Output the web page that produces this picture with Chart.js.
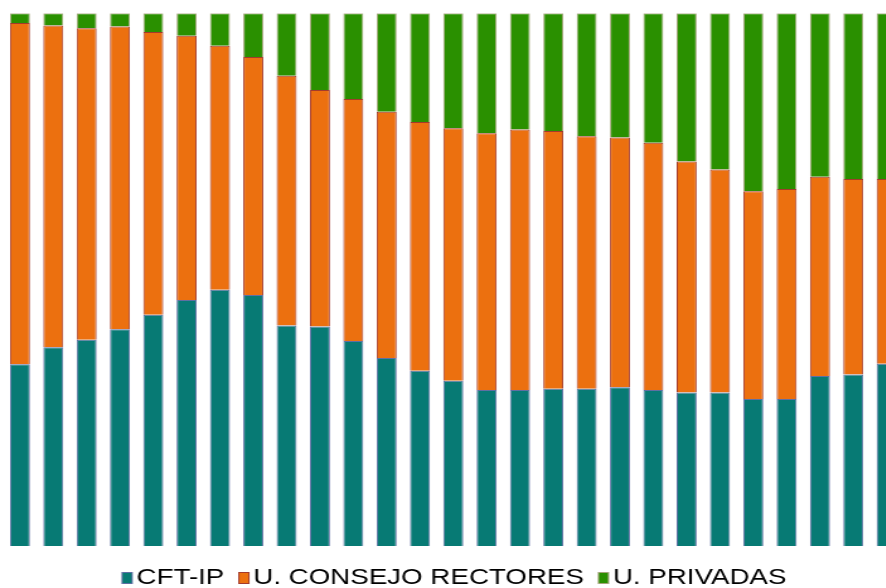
<!DOCTYPE html>
<html>
<head>
<meta charset="utf-8">
<script src="https://cdn.jsdelivr.net/npm/chart.js@4"></script>
<style>
  html, body { margin: 0; padding: 0; overflow: hidden; background: #fff; }
  #wrap { width: 727px; height: 600px; transform: scaleX(1.26); transform-origin: 0 0; }
</style>
</head>
<body>
<div id="wrap"><canvas id="chart" width="727" height="600"></canvas></div>
<script>
// years (axis is not shown in the picture)
const years = ['1983','1984','1985','1986','1987','1988','1989','1990','1991','1992','1993','1994','1995','1996',
               '1997','1998','1999','2000','2001','2002','2003','2004','2005','2006','2007','2008','2009']

// share of enrolment, %
const cftIp = [34.1,37.3,38.7,40.7,43.4,46.2,48.1,47.1,41.4,41.2,38.5,35.3,32.9,31.0,29.3,29.3,29.5,29.5,29.8,29.3,28.8,28.8,27.6,27.6,31.9,32.2,34.2]
const consejo = [64.1,60.4,58.5,56.8,53.1,49.6,45.8,44.7,46.9,44.4,45.4,46.2,46.7,47.4,48.2,48.9,48.4,47.4,46.9,46.4,43.4,41.9,39.0,39.4,37.4,36.7,34.7]
const privadas = [1.8,2.3,2.8,2.5,3.5,4.2,6.1,8.2,11.7,14.4,16.1,18.5,20.4,21.6,22.5,21.8,22.1,23.1,23.3,24.3,27.8,29.3,33.4,33.0,30.7,31.1,31.1]

const fills = ['#077a74', '#ec700f', '#2a9000']
const edges = ['#5f6fa3', '#a33a2c', '#a4a47a']

// legend box drawn on the right side of a small canvas so it sits close to the text
function legendBox(fill, edge){
    const c = document.createElement('canvas')
    c.width = 20
    c.height = 12
    const g = c.getContext('2d')
    g.fillStyle = fill
    g.fillRect(10, 0, 9, 12)
    g.strokeStyle = edge
    g.lineWidth = 1
    g.strokeRect(10.5, 0.5, 8, 11)
    return c
}
const boxes = fills.map((f, i) => legendBox(f, edges[i]))

const ctx = document.getElementById('chart')

new Chart(ctx, {
  type: 'bar',
  data: {
    labels: years,
    datasets: [{
      label: 'CFT-IP',
      data: cftIp,
      backgroundColor: fills[0],
      borderColor: edges[0],
      borderWidth: 1
    }, {
      label: 'U. CONSEJO RECTORES',
      data: consejo,
      backgroundColor: fills[1],
      borderColor: edges[1],
      borderWidth: 1
    }, {
      label: 'U. PRIVADAS',
      data: privadas,
      backgroundColor: fills[2],
      borderColor: edges[2],
      borderWidth: 1
    }]
  },
  options: {
    responsive: false,
    animation: false,
    devicePixelRatio: 1,
    barPercentage: 0.75,
    categoryPercentage: 0.8,
    layout: { padding: { left: 2.6, right: 10.1, top: 13.3, bottom: 1 } },
    scales: {
      x: {
        stacked: true,
        grid: { display: false },
        border: { display: false },
        ticks: { display: false },
        // keeps a small gap between the bars and the legend
        afterFit: function(scale) { scale.height = 11 }
      },
      y: {
        stacked: true,
        display: false,
        min: 0,
        max: 100
      }
    },
    plugins: {
      tooltip: { enabled: false },
      legend: {
        position: 'bottom',
        labels: {
          usePointStyle: true,
          pointStyleWidth: 2,
          padding: 10,
          color: '#000',
          font: { family: 'Liberation Sans', size: 22 },
          generateLabels: function(chart){
              const items = Chart.defaults.plugins.legend.labels.generateLabels(chart)
              items.forEach((it, i) => { it.pointStyle = boxes[i] })
              return items
          }
        }
      }
    }
  }
})
</script>
</body>
</html>
